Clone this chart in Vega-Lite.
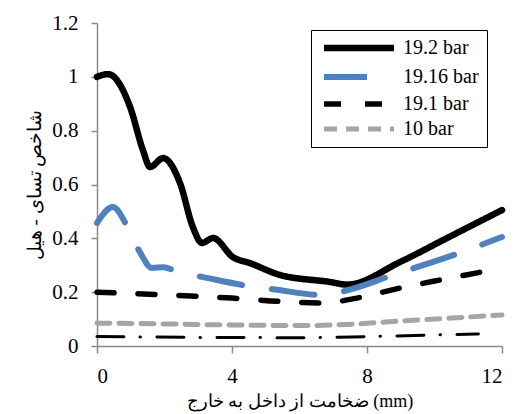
{
  "$schema": "https://vega.github.io/schema/vega-lite/v6.json",
  "width": 405,
  "height": 323,
  "autosize": "none",
  "padding": {"left": 97, "top": 23, "right": 19, "bottom": 68},
  "background": "white",
  "config": {"view": {"stroke": null}, "font": "Liberation Serif"},
  "title": {"text": "«ب»", "anchor": "middle", "fontSize": 18, "fontWeight": "normal", "baseline": "bottom", "offset": 16, "dx": -44, "color": "black"},
  "datasets": {
    "main": [
      {"series": "19.2 bar", "x": 0, "y": 1.0},
      {"series": "19.2 bar", "x": 0.33, "y": 1.01},
      {"series": "19.2 bar", "x": 0.98, "y": 0.888},
      {"series": "19.2 bar", "x": 1.36, "y": 0.728},
      {"series": "19.2 bar", "x": 1.57, "y": 0.665},
      {"series": "19.2 bar", "x": 1.96, "y": 0.698},
      {"series": "19.2 bar", "x": 2.46, "y": 0.605},
      {"series": "19.2 bar", "x": 2.84, "y": 0.442},
      {"series": "19.2 bar", "x": 3.11, "y": 0.383},
      {"series": "19.2 bar", "x": 3.44, "y": 0.401},
      {"series": "19.2 bar", "x": 4.03, "y": 0.33},
      {"series": "19.2 bar", "x": 4.53, "y": 0.308},
      {"series": "19.2 bar", "x": 5.42, "y": 0.264},
      {"series": "19.2 bar", "x": 6.9, "y": 0.238},
      {"series": "19.2 bar", "x": 7.41, "y": 0.228},
      {"series": "19.2 bar", "x": 8.98, "y": 0.312},
      {"series": "19.2 bar", "x": 10.37, "y": 0.401},
      {"series": "19.2 bar", "x": 12, "y": 0.505},
      {"series": "19.16 bar", "x": 0, "y": 0.457},
      {"series": "19.16 bar", "x": 0.47, "y": 0.516},
      {"series": "19.16 bar", "x": 0.92, "y": 0.438},
      {"series": "19.16 bar", "x": 1.27, "y": 0.349},
      {"series": "19.16 bar", "x": 1.63, "y": 0.29},
      {"series": "19.16 bar", "x": 1.96, "y": 0.293},
      {"series": "19.16 bar", "x": 2.4, "y": 0.275},
      {"series": "19.16 bar", "x": 3.14, "y": 0.256},
      {"series": "19.16 bar", "x": 4.53, "y": 0.222},
      {"series": "19.16 bar", "x": 5.27, "y": 0.21},
      {"series": "19.16 bar", "x": 6.7, "y": 0.189},
      {"series": "19.16 bar", "x": 7.44, "y": 0.208},
      {"series": "19.16 bar", "x": 8.77, "y": 0.264},
      {"series": "19.16 bar", "x": 10.81, "y": 0.349},
      {"series": "19.16 bar", "x": 12, "y": 0.405},
      {"series": "19.1 bar", "x": 0, "y": 0.2},
      {"series": "19.1 bar", "x": 2, "y": 0.19},
      {"series": "19.1 bar", "x": 4, "y": 0.178},
      {"series": "19.1 bar", "x": 5.5, "y": 0.165},
      {"series": "19.1 bar", "x": 6.7, "y": 0.16},
      {"series": "19.1 bar", "x": 7.7, "y": 0.178},
      {"series": "19.1 bar", "x": 8.9, "y": 0.213},
      {"series": "19.1 bar", "x": 10.15, "y": 0.245},
      {"series": "19.1 bar", "x": 11.6, "y": 0.28},
      {"series": "19.1 bar", "x": 12, "y": 0.29},
      {"series": "10 bar", "x": 0, "y": 0.085},
      {"series": "10 bar", "x": 2, "y": 0.082},
      {"series": "10 bar", "x": 4, "y": 0.078},
      {"series": "10 bar", "x": 6, "y": 0.076},
      {"series": "10 bar", "x": 7.4, "y": 0.08},
      {"series": "10 bar", "x": 9, "y": 0.093},
      {"series": "10 bar", "x": 10.5, "y": 0.104},
      {"series": "10 bar", "x": 12, "y": 0.115}
    ],
    "base": [
      {"x": 0, "y": 0.035},
      {"x": 3, "y": 0.032},
      {"x": 6, "y": 0.031},
      {"x": 8, "y": 0.035},
      {"x": 10, "y": 0.041},
      {"x": 11.3, "y": 0.045}
    ]
  },
  "layer": [
    {
      "data": {"name": "base"},
      "mark": {"type": "line", "color": "black", "strokeWidth": 3, "strokeDash": [27, 16, 0.5, 16.5], "strokeCap": "round", "interpolate": "monotone"},
      "encoding": {
        "x": {"field": "x", "type": "quantitative"},
        "y": {"field": "y", "type": "quantitative"}
      }
    },
    {
      "data": {"name": "main"},
      "mark": {"type": "line", "interpolate": "monotone", "strokeCap": "round"},
      "encoding": {
        "x": {
          "field": "x", "type": "quantitative",
          "scale": {"domain": [0, 12]},
          "axis": {"values": [0, 4, 8, 12], "grid": false, "domainColor": "#898989", "tickColor": "#898989", "domainWidth": 1.5, "tickWidth": 1.5, "tickSize": 7, "labelFontSize": 21, "labelColor": "black", "labelPadding": 12, "title": "ضخامت از داخل به خارج (mm)", "titleFontSize": 18, "titleFontWeight": "normal", "titleColor": "black", "titlePadding": 6}
        },
        "y": {
          "field": "y", "type": "quantitative",
          "scale": {"domain": [0, 1.2]},
          "axis": {"values": [0, 0.2, 0.4, 0.6, 0.8, 1, 1.2], "format": "~g", "grid": false, "domainColor": "#898989", "tickColor": "#898989", "domainWidth": 1.5, "tickWidth": 1.5, "tickSize": 6, "labelFontSize": 21, "labelColor": "black", "labelPadding": 13, "title": "شاخص تسای - هیل", "titleFontSize": 19, "titleFontWeight": "normal", "titleColor": "black", "titlePadding": 7}
        },
        "color": {
          "field": "series", "type": "nominal",
          "scale": {"domain": ["19.2 bar", "19.16 bar", "19.1 bar", "10 bar"], "range": ["#000000", "#4F81BD", "#000000", "#A5A5A5"]},
          "legend": {"title": null, "orient": "none", "legendX": 214, "legendY": 7, "strokeColor": "black", "padding": 8, "symbolType": "M-1,0H13", "symbolSize": 100, "labelFontSize": 20, "labelColor": "black", "labelOffset": 64, "rowPadding": 4}
        },
        "strokeDash": {
          "field": "series", "type": "nominal",
          "scale": {"domain": ["19.2 bar", "19.16 bar", "19.1 bar", "10 bar"], "range": [[1, 0], [43, 30], [17, 24], [13, 9]]}
        },
        "strokeWidth": {
          "field": "series", "type": "nominal",
          "scale": {"domain": ["19.2 bar", "19.16 bar", "19.1 bar", "10 bar"], "range": [6.5, 5, 5, 4]}
        }
      }
    }
  ]
}
